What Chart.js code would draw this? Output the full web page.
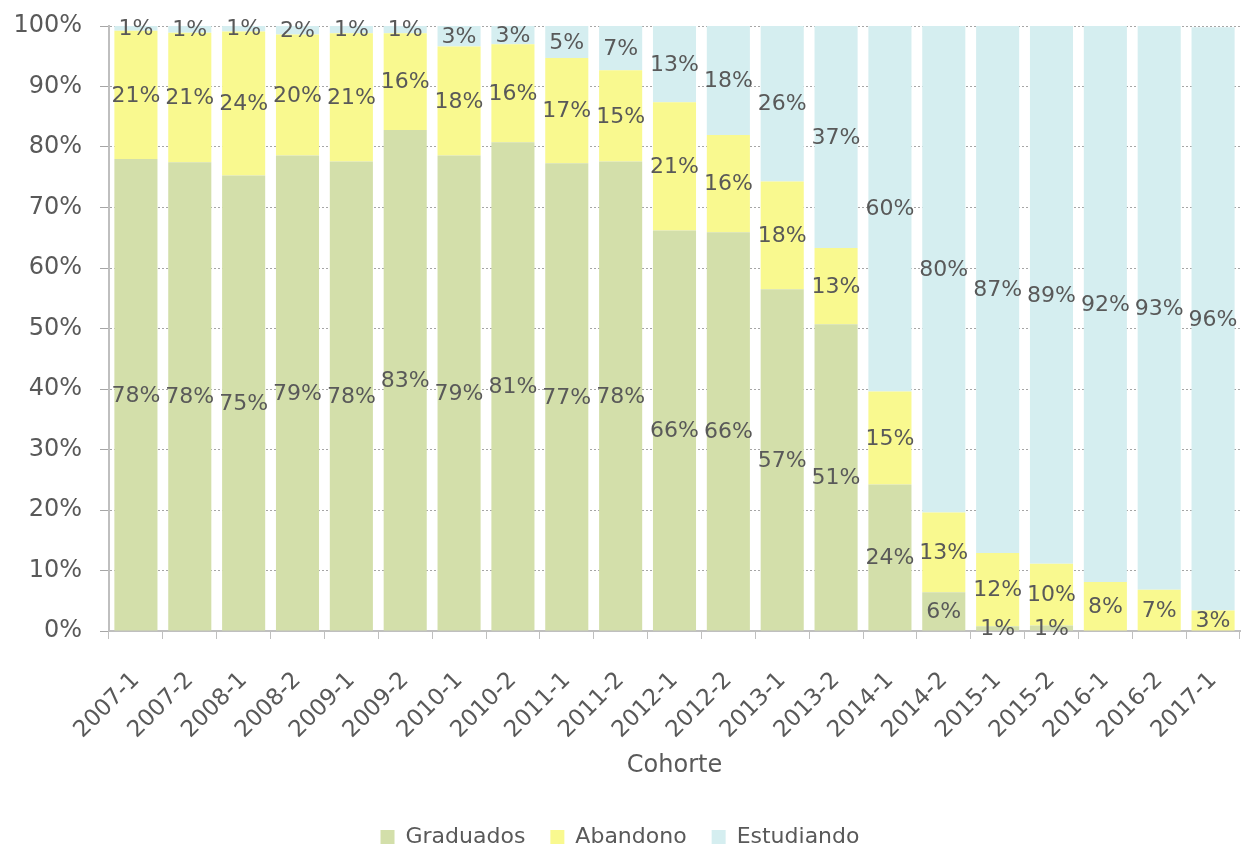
<!DOCTYPE html>
<html>
<head>
<meta charset="utf-8">
<script src="https://cdn.jsdelivr.net/npm/chart.js@4/dist/chart.umd.min.js"></script>
<style>
  html, body { margin: 0; padding: 0; background: #fff; }
  #wrap { width: 1248px; height: 847px; }
</style>
</head>
<body>
<div id="wrap"><canvas id="chart" width="1248" height="847"></canvas></div>
<script>
const cohortes = ["2007-1","2007-2","2008-1","2008-2","2009-1","2009-2","2010-1","2010-2","2011-1","2011-2",
                  "2012-1","2012-2","2013-1","2013-2","2014-1","2014-2","2015-1","2015-2","2016-1","2016-2","2017-1"];
const graduados  = [78.0, 77.5, 75.3, 78.6, 77.6, 82.8, 78.6, 80.8, 77.3, 77.6, 66.2, 65.9, 56.5, 50.7, 24.2, 6.4, 0.8, 0.9, 0, 0, 0];
const abandono   = [21.2, 21.4, 23.8, 20.0, 21.2, 16.0, 18.0, 16.2, 17.4, 15.1, 21.2, 16.1, 17.8, 12.6, 15.4, 13.2, 12.1, 10.2, 8.1, 6.8, 3.4];
const estudiando = [0.8, 1.1, 0.9, 1.5, 1.2, 1.2, 3.4, 3.0, 5.3, 7.3, 12.6, 18.0, 25.7, 36.7, 60.4, 80.4, 87.1, 88.9, 91.9, 93.2, 96.4];
const yTicks = [0, 10, 20, 30, 40, 50, 60, 70, 80, 90, 100];

const gray = "#595959";
const font = "'DejaVu Sans', sans-serif";

// percent labels centred in each segment
const segmentLabels = {
  id: "segmentLabels",
  afterDatasetsDraw(chart) {
    const ctx = chart.ctx;
    ctx.save();
    ctx.fillStyle = gray;
    ctx.font = "22px " + font;
    ctx.textAlign = "center";
    ctx.textBaseline = "middle";
    chart.data.datasets.forEach((ds, i) => {
      chart.getDatasetMeta(i).data.forEach((bar, j) => {
        const v = ds.data[j];
        if (!v) return;
        const p = bar.getProps(["x", "y", "base"], true);
        ctx.fillText(Math.round(v) + "%", p.x, (p.y + p.base) / 2 + 1);
      });
    });
    ctx.restore();
  }
};

Chart.defaults.font.family = font;
Chart.defaults.color = gray;

new Chart(document.getElementById("chart"), {
  type: "bar",
  data: {
    labels: cohortes,
    datasets: [
      { label: "Graduados", data: graduados, backgroundColor: "#d3dfaa" },
      { label: "Abandono", data: abandono, backgroundColor: "#f9f98f" },
      { label: "Estudiando", data: estudiando, backgroundColor: "#d5eef0" }
    ]
  },
  plugins: [segmentLabels],
  options: {
    responsive: false,
    animation: false,
    layout: { padding: { top: 26, right: 8, left: 0, bottom: -11 } },
    datasets: { bar: { barPercentage: 0.8, categoryPercentage: 1 } },
    plugins: {
      tooltip: { enabled: false },
      legend: {
        position: "bottom",
        labels: { font: { size: 22 }, color: gray, boxWidth: 14, boxHeight: 14, padding: 25 }
      }
    },
    scales: {
      x: {
        stacked: true,
        afterFit: s => { s.height = 170; s.paddingLeft = 0; s.paddingRight = 0; },
        grid: { offset: true, drawOnChartArea: false, color: "#bfbfbf", tickLength: 8 },
        border: { color: "#bfbfbf", width: 2 },
        ticks: { font: { size: 23 }, color: gray, minRotation: 45, maxRotation: 45, autoSkip: false, padding: 28 },
        title: { display: true, text: "Cohorte", font: { size: 24 }, color: gray, padding: { top: 6, bottom: 21 } }
      },
      y: {
        stacked: true,
        min: 0, max: 100,
        afterBuildTicks: s => { s.ticks = yTicks.map(v => ({ value: v })); },
        afterFit: s => { s.width = 109; s.paddingTop = 0; s.paddingBottom = 0; },
        grid: { color: "#a6a6a6", tickLength: 9, drawTicks: true },
        border: { color: "#bfbfbf", width: 2, dash: [2, 2] },
        ticks: { font: { size: 24 }, color: gray, padding: 18, callback: v => v + "%" }
      }
    }
  }
});
</script>
</body>
</html>
